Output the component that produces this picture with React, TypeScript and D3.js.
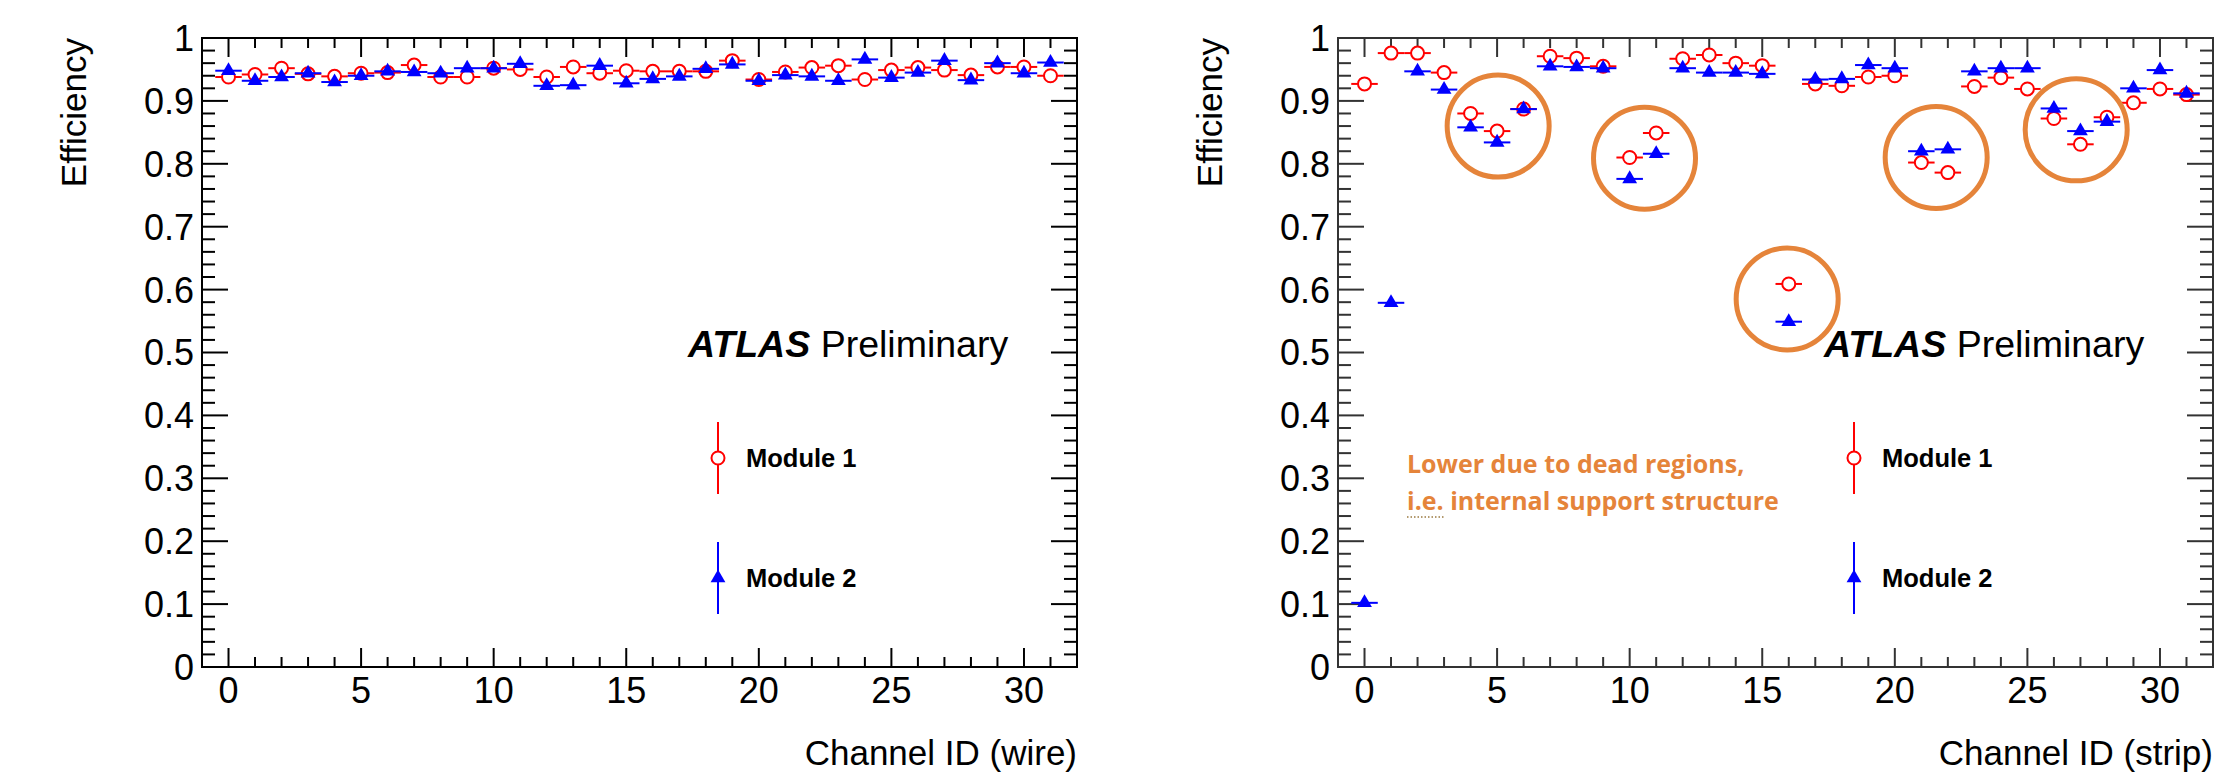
import React, { useEffect, useRef } from "react";
import * as d3 from "d3";

// channel ids 0..31
const channels = d3.range(32);

// left panel: wires
const wireModule1 = [0.938, 0.942, 0.952, 0.943, 0.939, 0.944, 0.945, 0.957, 0.938, 0.938, 0.952, 0.95, 0.938, 0.954, 0.944, 0.948, 0.947, 0.947, 0.947, 0.964, 0.934, 0.946, 0.953, 0.956, 0.934, 0.949, 0.953, 0.949, 0.941, 0.954, 0.954, 0.94];
const wireModule2 = [0.948, 0.932, 0.938, 0.944, 0.93, 0.94, 0.947, 0.946, 0.944, 0.952, 0.952, 0.959, 0.924, 0.925, 0.956, 0.928, 0.935, 0.939, 0.951, 0.958, 0.932, 0.941, 0.939, 0.932, 0.966, 0.937, 0.945, 0.964, 0.933, 0.96, 0.944, 0.961];

// right panel: strips
const stripModule1 = [0.927, 0.976, 0.976, 0.945, 0.88, 0.852, 0.887, 0.971, 0.968, 0.955, 0.81, 0.849, 0.967, 0.973, 0.96, 0.956, 0.609, 0.927, 0.924, 0.938, 0.94, 0.802, 0.786, 0.923, 0.937, 0.919, 0.872, 0.831, 0.874, 0.897, 0.919, 0.91];
const stripModule2 = [0.102, 0.579, 0.947, 0.918, 0.858, 0.834, 0.887, 0.955, 0.954, 0.952, 0.776, 0.816, 0.952, 0.945, 0.945, 0.943, 0.549, 0.934, 0.935, 0.957, 0.952, 0.82, 0.823, 0.947, 0.952, 0.952, 0.888, 0.852, 0.867, 0.92, 0.949, 0.912];

// highlighted dead regions (channel, efficiency)
const deadRegionX = [5.04, 10.56, 15.94, 21.56, 26.84];
const deadRegionY = [0.86, 0.809, 0.585, 0.81, 0.854];

const yTickValues = [0, 0.1, 0.2, 0.3, 0.4, 0.5, 0.6, 0.7, 0.8, 0.9, 1];
const yTickLabels = ["0", "0.1", "0.2", "0.3", "0.4", "0.5", "0.6", "0.7", "0.8", "0.9", "1"];
const xTickValues = [0, 5, 10, 15, 20, 25, 30];
const legendLabels = ["Module 1", "Module 2"];
const noteLines = ["Lower due to dead regions,", "i.e. internal support structure"];

const W = 2226;
const H = 774;
const TOP = 38;
const PW = 875;
const PH = 629;
const FONT = "'Liberation Sans', Arial, Helvetica, sans-serif";
const RED = "#ff0000";
const BLUE = "#0000ff";
const ORANGE = "#e5843a";

function drawPanel(svg, left, m1, m2, xTitle, frameColor) {
  const g = svg.append("g");
  const x = d3.scaleLinear().domain([-1, 32]).range([left, left + PW]);
  const y = d3.scaleLinear().domain([0, 1]).range([TOP + PH, TOP]);

  // frame
  g.append("rect")
    .attr("x", left).attr("y", TOP)
    .attr("width", PW).attr("height", PH)
    .attr("fill", "none").attr("stroke", frameColor).attr("stroke-width", 2);

  // x ticks (bottom + top, pointing in)
  const xTicks = d3.range(0, 32);
  xTicks.forEach(t => {
    const len = t % 5 === 0 ? 19 : 10;
    g.append("line").attr("x1", x(t)).attr("x2", x(t))
      .attr("y1", TOP + PH).attr("y2", TOP + PH - len)
      .attr("stroke", frameColor).attr("stroke-width", 2);
    g.append("line").attr("x1", x(t)).attr("x2", x(t))
      .attr("y1", TOP).attr("y2", TOP + len)
      .attr("stroke", frameColor).attr("stroke-width", 2);
  });

  // y ticks (left + right)
  const yTicks = d3.range(0, 51).map(i => i * 0.02);
  yTicks.forEach((t, i) => {
    const len = i % 5 === 0 ? 26 : 13;
    g.append("line").attr("x1", left).attr("x2", left + len)
      .attr("y1", y(t)).attr("y2", y(t))
      .attr("stroke", frameColor).attr("stroke-width", 2);
    g.append("line").attr("x1", left + PW).attr("x2", left + PW - len)
      .attr("y1", y(t)).attr("y2", y(t))
      .attr("stroke", frameColor).attr("stroke-width", 2);
  });

  // tick labels
  g.selectAll(".ylab").data(yTickValues).enter().append("text")
    .attr("x", left - 8).attr("y", d => y(d)).attr("dy", "0.36em")
    .attr("text-anchor", "end")
    .attr("font-family", FONT).attr("font-size", 36)
    .text((d, i) => yTickLabels[i]);

  g.selectAll(".xlab").data(xTickValues).enter().append("text")
    .attr("x", d => x(d)).attr("y", 703)
    .attr("text-anchor", "middle")
    .attr("font-family", FONT).attr("font-size", 36)
    .text(d => d);

  // axis titles
  g.append("text")
    .attr("x", left + PW).attr("y", 765)
    .attr("text-anchor", "end")
    .attr("font-family", FONT).attr("font-size", 35)
    .text(xTitle);

  g.append("text")
    .attr("transform", `translate(${left - 116},${TOP}) rotate(-90)`)
    .attr("text-anchor", "end")
    .attr("font-family", FONT).attr("font-size", 35)
    .text("Efficiency");

  const half = 0.5;
  const tri = d3.symbol().type(d3.symbolTriangle).size(95);

  // module 1: open red circles with x error bars
  const s1 = g.append("g");
  s1.selectAll("line").data(channels).enter().append("line")
    .attr("x1", d => x(d - half)).attr("x2", d => x(d + half))
    .attr("y1", d => y(m1[d])).attr("y2", d => y(m1[d]))
    .attr("stroke", RED).attr("stroke-width", 2);
  s1.selectAll("circle").data(channels).enter().append("circle")
    .attr("cx", d => x(d)).attr("cy", d => y(m1[d])).attr("r", 6.5)
    .attr("fill", "white").attr("stroke", RED).attr("stroke-width", 2);

  // module 2: filled blue triangles
  const s2 = g.append("g");
  s2.selectAll("line").data(channels).enter().append("line")
    .attr("x1", d => x(d - half)).attr("x2", d => x(d + half))
    .attr("y1", d => y(m2[d])).attr("y2", d => y(m2[d]))
    .attr("stroke", BLUE).attr("stroke-width", 2);
  s2.selectAll("path").data(channels).enter().append("path")
    .attr("d", tri)
    .attr("transform", d => `translate(${x(d)},${y(m2[d])})`)
    .attr("fill", BLUE);

  // ATLAS label
  const lab = g.append("text")
    .attr("x", left + 486).attr("y", 357)
    .attr("font-family", FONT).attr("font-size", 37.5);
  lab.append("tspan").attr("font-weight", "bold").attr("font-style", "italic").text("ATLAS");
  lab.append("tspan").text(" Preliminary");

  // legend
  const lx = left + 516;
  const ly = [458, 578];
  ly.forEach((cy, i) => {
    const col = i === 0 ? RED : BLUE;
    g.append("line").attr("x1", lx).attr("x2", lx)
      .attr("y1", cy - 36).attr("y2", cy + 36)
      .attr("stroke", col).attr("stroke-width", 2);
    if (i === 0) {
      g.append("circle").attr("cx", lx).attr("cy", cy).attr("r", 6.5)
        .attr("fill", "white").attr("stroke", col).attr("stroke-width", 2);
    } else {
      g.append("path").attr("d", tri)
        .attr("transform", `translate(${lx},${cy})`).attr("fill", col);
    }
    g.append("text")
      .attr("x", left + 544).attr("y", cy + 9)
      .attr("font-family", FONT).attr("font-size", 25.5).attr("font-weight", "bold")
      .text(legendLabels[i]);
  });

  return { x, y, g };
}

const App = () => {
  const ref = useRef(null);

  useEffect(() => {
    const svg = d3.select(ref.current);
    svg.selectAll("*").remove();

    drawPanel(svg, 202, wireModule1, wireModule2, "Channel ID (wire)", "#000");
    const right = drawPanel(svg, 1338, stripModule1, stripModule2, "Channel ID (strip)", "#333");

    // dead region circles
    right.g.selectAll(".dead").data(deadRegionX).enter().append("circle")
      .attr("cx", d => right.x(d))
      .attr("cy", (d, i) => right.y(deadRegionY[i]))
      .attr("r", 51)
      .attr("fill", "none").attr("stroke", ORANGE).attr("stroke-width", 5);

    // note
    noteLines.forEach((t, i) => {
      right.g.append("text")
        .attr("x", 1407).attr("y", 473 + i * 37)
        .attr("font-family", "'Open Sans', Lato, sans-serif")
        .attr("font-size", 25).attr("font-weight", "bold")
        .attr("fill", ORANGE)
        .text(t);
    });
    right.g.append("line")
      .attr("x1", 1407).attr("x2", 1445)
      .attr("y1", 517).attr("y2", 517)
      .attr("stroke", "#9a7a40").attr("stroke-width", 1.5)
      .attr("stroke-dasharray", "1.5 2");
  }, []);

  return (
    <svg ref={ref} width={W} height={H}
      style={{ position: "absolute", left: 0, top: 0, background: "white" }} />
  );
};

export default App;
